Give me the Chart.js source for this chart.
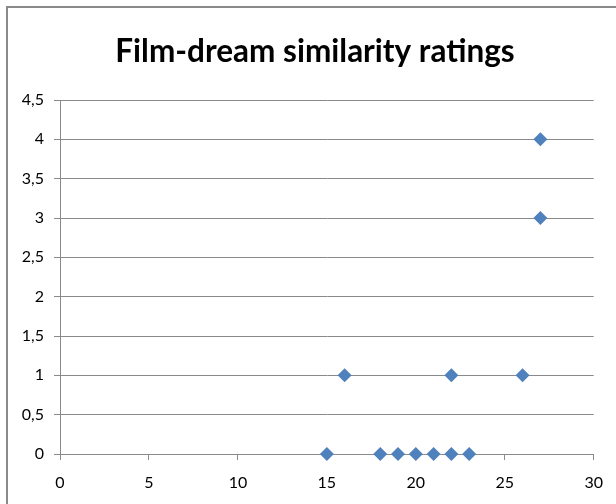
<!DOCTYPE html>
<html>
<head>
<meta charset="utf-8">
<script src="https://cdn.jsdelivr.net/npm/chart.js@4/dist/chart.umd.min.js"></script>
<style>
  html, body { margin: 0; padding: 0; background: #fff; overflow: hidden; }
  #frame {
    position: absolute; left: 6px; top: 6px; width: 700px; height: 600px;
    border: 2px solid #8a8a8a; box-sizing: border-box;
  }
  #wrap { position: absolute; left: 0; top: 0; width: 616px; height: 504px; }
</style>
</head>
<body>
<div id="frame"></div>
<div id="wrap"><canvas id="c" width="616" height="504"></canvas></div>
<script>
// Film length (x) vs. dream similarity rating (y)
const filmValues = [15, 16, 18, 19, 20, 21, 22, 22, 23, 26, 27, 27];
const ratingValues = [0, 1, 0, 0, 0, 0, 0, 1, 0, 1, 3, 4];
const xTicks = [0, 5, 10, 15, 20, 25, 30];
const yTicks = [0, 0.5, 1, 1.5, 2, 2.5, 3, 3.5, 4, 4.5];
const titleText = 'Film-dream similarity ratings';

const points = filmValues.map((x, i) => ({ x: x, y: ratingValues[i] }));
const fmt = v => String(v).replace('.', ',');
const labelFont = { family: 'Lato, "Open Sans", sans-serif', size: 16 };

// Centre the title a little to the right, over the plot rather than the canvas
const titleShift = {
  id: 'titleShift',
  afterLayout(chart) {
    if (chart.titleBlock) { chart.titleBlock.left += 35; }
  }
};

new Chart(document.getElementById('c'), {
  type: 'scatter',
  data: {
    datasets: [{
      data: points,
      clip: false,
      pointStyle: 'rectRot',
      pointRadius: 7,
      pointHoverRadius: 7,
      backgroundColor: '#4F81BD',
      borderColor: '#4F81BD',
      borderWidth: 0
    }]
  },
  plugins: [titleShift],
  options: {
    responsive: false,
    animation: false,
    events: [],
    layout: { padding: { left: 0, right: 21, top: 0, bottom: 0 } },
    plugins: {
      legend: { display: false },
      tooltip: { enabled: false },
      title: {
        display: true,
        text: titleText,
        color: '#000',
        font: { family: 'Lato, "Open Sans", sans-serif', size: 31.5, weight: 'bold', lineHeight: 1.2 },
        padding: { top: 33, bottom: 29.2 }
      }
    },
    scales: {
      x: {
        type: 'linear',
        min: 0, max: 30,
        afterBuildTicks: s => { s.ticks = xTicks.map(v => ({ value: v })); },
        afterFit: s => { s.height = 50; },
        grid: { display: true, drawOnChartArea: false, drawTicks: true, tickLength: 6, color: '#8a8a8a' },
        border: { display: true, color: '#8a8a8a', width: 1 },
        ticks: { color: '#000', font: labelFont, padding: 13, maxRotation: 0, callback: v => fmt(v) }
      },
      y: {
        type: 'linear',
        min: 0, max: 4.5,
        afterBuildTicks: s => { s.ticks = yTicks.map(v => ({ value: v })); },
        afterFit: s => { s.width = 60; },
        grid: { display: true, drawTicks: true, tickLength: 6, color: '#8a8a8a', lineWidth: 1 },
        border: { display: true, color: '#8a8a8a', width: 1 },
        ticks: { color: '#000', font: labelFont, padding: 10, callback: v => fmt(v) }
      }
    }
  }
});
</script>
</body>
</html>
